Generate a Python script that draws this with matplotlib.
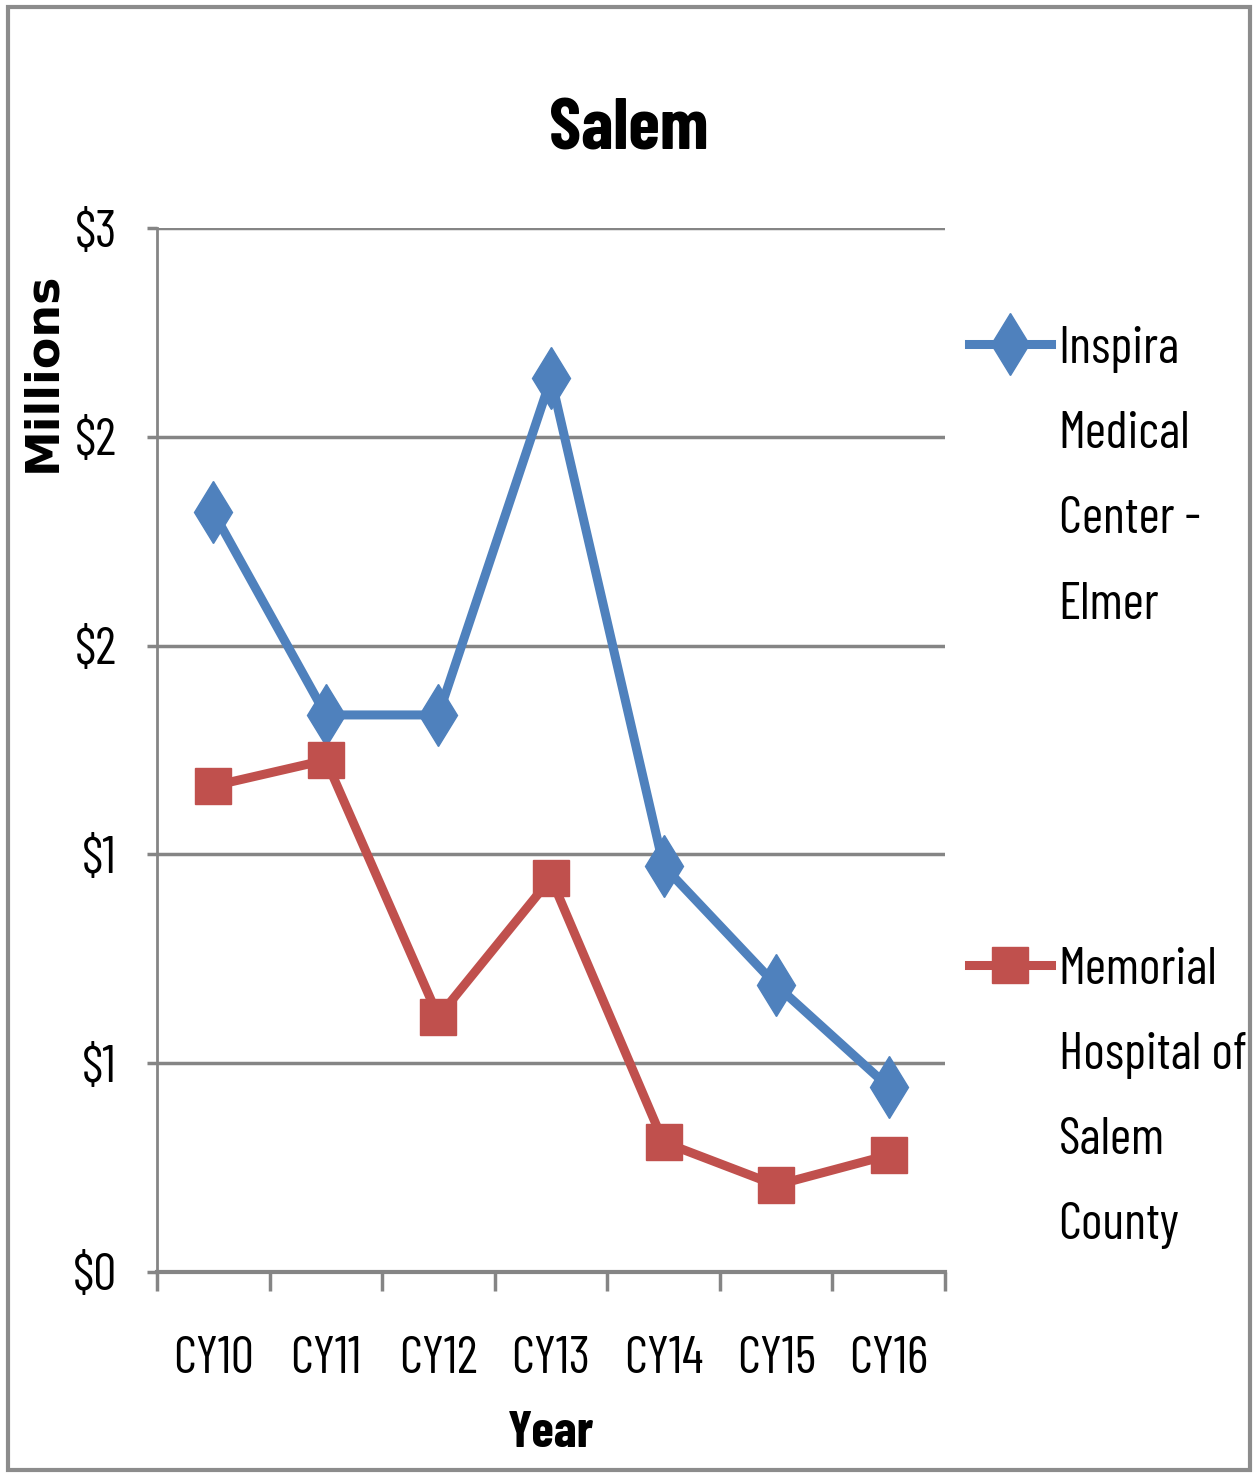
import matplotlib
matplotlib.use('Agg')
import matplotlib.pyplot as plt
from matplotlib.patches import Rectangle

# data (millions of dollars)
years = ['CY10', 'CY11', 'CY12', 'CY13', 'CY14', 'CY15', 'CY16']
inspira = [1.82, 1.334, 1.334, 2.14, 0.972, 0.687, 0.443]
memorial = [1.164, 1.226, 0.611, 0.943, 0.311, 0.208, 0.280]
ytick_vals = [0, 0.5, 1.0, 1.5, 2.0, 2.5]
ytick_labels = ['$0', '$1', '$1', '$2', '$2', '$3']
name1 = 'Inspira\nMedical\nCenter -\nElmer'
name2 = 'Memorial\nHospital of\nSalem\nCounty'

narrow = ['Barlow Condensed', 'DejaVu Sans']
grey = '#858585'

fig = plt.figure(figsize=(12.58, 14.77), dpi=100)
ax = fig.add_axes([0.1248, 0.1388, 0.6264, 0.7068])

x = range(len(years))
ax.plot(x, inspira, color='#4F81BD', lw=6.5, marker='d', markersize=32,
        label=name1, zorder=3)
ax.plot(x, memorial, color='#C0504D', lw=6.5, marker='s', markersize=26,
        label=name2, zorder=3)

ax.set_xlim(-0.5, len(years) - 0.5)
ax.set_ylim(0, 2.5)
ax.set_yticks(ytick_vals)
ax.set_yticklabels(ytick_labels, family=narrow, fontsize=37)
ax.set_xticks(list(x))
ax.set_xticklabels(years, family=narrow, fontsize=37)
ax.set_xticks([i - 0.5 for i in range(len(years) + 1)], minor=True)
ax.tick_params(axis='x', which='major', length=0, pad=46)
ax.tick_params(axis='x', which='minor', length=14, width=2.5, color=grey,
               direction='out')
ax.tick_params(axis='y', length=7, width=2.5, color=grey, pad=22)
ax.grid(axis='y', color=grey, lw=2.5, zorder=0)

for s in ['top', 'right']:
    ax.spines[s].set_visible(False)
ax.spines['left'].set_color(grey)
ax.spines['left'].set_linewidth(2)
ax.spines['bottom'].set_color(grey)
ax.spines['bottom'].set_linewidth(3)

ax.set_xlabel('Year', fontsize=37, fontweight='bold', family=narrow,
              labelpad=20)
fig.text(0.034, 0.748, 'Millions', rotation=90, fontsize=33,
         fontweight='bold', ha='center', va='center')
fig.suptitle('Salem', fontsize=52, fontweight='bold', family=narrow, y=0.933)

leg = ax.legend(loc='upper left', bbox_to_anchor=(1.03, 0.906), frameon=False,
                prop={'family': narrow, 'size': 37}, handlelength=1.6,
                handletextpad=0.15, labelspacing=6.2, borderaxespad=0,
                borderpad=0)
for t in leg.get_texts():
    t.set_linespacing(2.03)
for col in leg._legend_handle_box.get_children():
    for row in col.get_children():
        row.align = 'top'

fig.patches.append(Rectangle((0.006, 0.005), 0.988, 0.99, transform=fig.transFigure,
                             fill=False, edgecolor='#8c8c8c', lw=3))

fig.savefig('out.png', dpi=100)
